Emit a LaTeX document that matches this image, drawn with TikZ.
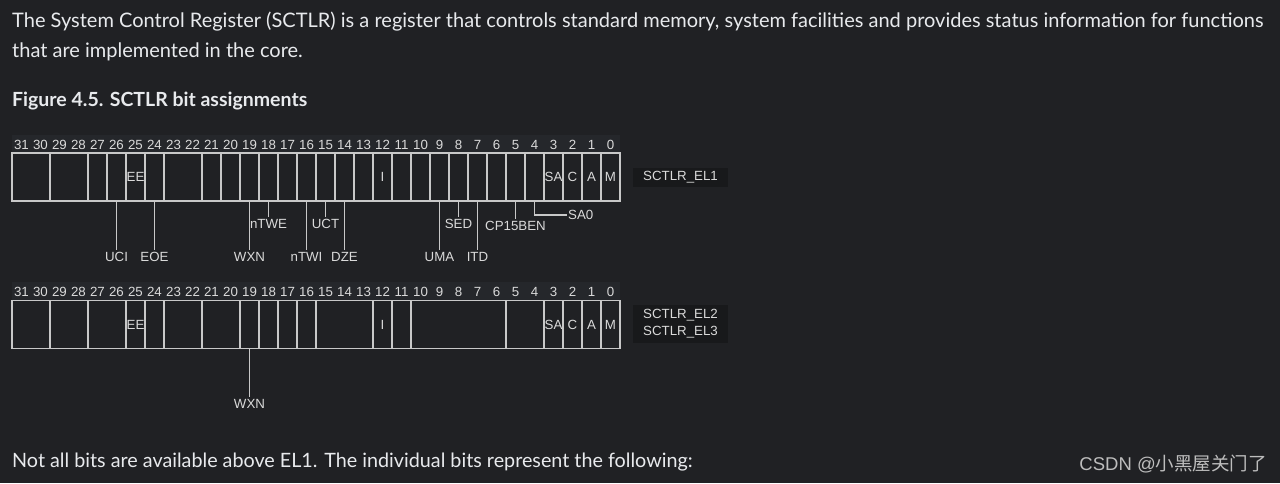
\documentclass[tikz,border=0pt]{standalone}
\usepackage{fontspec}
\setmainfont{Lato}
\newfontfamily\arialf{Liberation Sans}
\newfontfamily\cjkfont{Noto Sans CJK SC}
\definecolor{bg}{HTML}{202124}
\definecolor{strip}{HTML}{25272B}
\definecolor{fg}{HTML}{E8EAED}
\definecolor{ln}{HTML}{C8C8C8}
\definecolor{lbl}{HTML}{DADADA}
\definecolor{tagbg}{HTML}{18191B}
\definecolor{wmc}{HTML}{BDBDBD}
\newcommand\regcell[5]{%
  \pgfmathsetmacro\cellcx{12+(31-#2)*19+(#2-#3+1)*9.5}%
  \pgfmathsetmacro\cellw{(#2-#3+1)*19}%
  \node[cellbox,minimum width=\cellw pt] (#1) at (\cellcx,#4) {#5};%
}
\begin{document}
\begin{tikzpicture}[x=1pt,y=-1pt,
  cellbox/.style={draw=ln,line width=1.3pt,inner sep=0pt,outer sep=0pt,minimum height=48pt,font=\arialf\fontsize{13.3}{13.3}\selectfont,text=lbl},
  bitnum/.style={font=\arialf\fontsize{13.3}{13.3}\selectfont,text=lbl,inner sep=0pt},
  fldlbl/.style={font=\arialf\fontsize{13.3}{13.3}\selectfont,text=lbl,inner sep=2.5pt},
  conn/.style={draw=ln,line width=1.3pt},
  tag/.style={fill=tagbg,font=\arialf\fontsize{13.3}{17}\selectfont,text=lbl,minimum width=95pt,inner sep=0pt,align=center},
  body/.style={font=\fontsize{20}{24}\selectfont,text=fg,anchor=base west,inner sep=0pt}
]
\useasboundingbox[fill=bg] (0,0) rectangle (1280,483);

% body text
\node[body] (p1) at (12,27) {The System Control Register (SCTLR) is a register that controls standard memory, system facilities and provides status information for functions};
\node[body] (p2) at (12,57) {that are implemented in the core.};
\node[body,font=\bfseries\fontsize{19.5}{24}\selectfont] (h) at (12,106) {Figure 4.5. SCTLR bit assignments};
\node[body,font=\fontsize{19.75}{24}\selectfont] (p3) at (12,467) {Not all bits are available above EL1. The individual bits represent the following:};
\node[anchor=base east,inner sep=0pt,text=wmc,font=\arialf\fontsize{18.5}{18.5}\selectfont] (wm) at (1267,470) {CSDN @{\cjkfont 小黑屋关门了}};

% number strips
\fill[strip] (12,135) rectangle (620,153);
\fill[strip] (12,282) rectangle (620,300);
\foreach \b in {0,...,31} {
  \node[bitnum] (na\b) at ({12+(31.5-\b)*19},144.5) {\b};
  \node[bitnum] (nb\b) at ({12+(31.5-\b)*19},291.5) {\b};
}

% SCTLR_EL1 register
\regcell{a31}{31}{30}{177}{}
\regcell{a29}{29}{28}{177}{}
\regcell{a23}{23}{22}{177}{}
\foreach \b in {27,26,24,21,20,19,18,17,16,15,14,13,11,10,9,8,7,6,5,4} {\regcell{a\b}{\b}{\b}{177}{}}
\regcell{a25}{25}{25}{177}{EE}
\regcell{a12}{12}{12}{177}{I}
\regcell{a3}{3}{3}{177}{SA}
\regcell{a2}{2}{2}{177}{C}
\regcell{a1}{1}{1}{177}{A}
\regcell{a0}{0}{0}{177}{M}

% SCTLR_EL2/EL3 register
\regcell{b31}{31}{30}{324.5}{}
\regcell{b29}{29}{28}{324.5}{}
\regcell{b27}{27}{26}{324.5}{}
\regcell{b25}{25}{25}{324.5}{EE}
\regcell{b24}{24}{24}{324.5}{}
\regcell{b23}{23}{22}{324.5}{}
\regcell{b21}{21}{20}{324.5}{}
\regcell{b19}{19}{19}{324.5}{}
\regcell{b18}{18}{18}{324.5}{}
\regcell{b17}{17}{17}{324.5}{}
\regcell{b16}{16}{16}{324.5}{}
\regcell{b15}{15}{13}{324.5}{}
\regcell{b12}{12}{12}{324.5}{I}
\regcell{b11}{11}{11}{324.5}{}
\regcell{b10}{10}{6}{324.5}{}
\regcell{b5}{5}{4}{324.5}{}
\regcell{b3}{3}{3}{324.5}{SA}
\regcell{b2}{2}{2}{324.5}{C}
\regcell{b1}{1}{1}{324.5}{A}
\regcell{b0}{0}{0}{324.5}{M}

% field labels EL1
\foreach \nm/\b/\yy in {UCI/26/257,EOE/24/257,WXN/19/257,nTWI/16/257,DZE/14/257,UMA/9/257,ITD/7/257,nTWE/18/224,UCT/15/224,SED/8/224,CP15BEN/5/226} {
  \node[fldlbl] (l\nm) at ({12+(31.5-\b)*19},\yy) {\nm};
  \draw[conn] (a\b.south) -- (l\nm.north);
}
\node[fldlbl,anchor=west,inner sep=1pt] (lSA0) at (567,215) {SA0};
\draw[conn] (a4.south) |- (lSA0.west);

% field labels EL2/EL3
\node[fldlbl] (lWXNb) at ({12+(31.5-19)*19},404) {WXN};
\draw[conn] (b19.south) -- (lWXNb.north);

% register tags
\node[tag,minimum height=19pt] (t1) at (680.5,177.5) {SCTLR\_EL1};
\node[tag,minimum height=38pt] (t2) at (680.5,324) {SCTLR\_EL2\\SCTLR\_EL3};
\end{tikzpicture}
\end{document}
